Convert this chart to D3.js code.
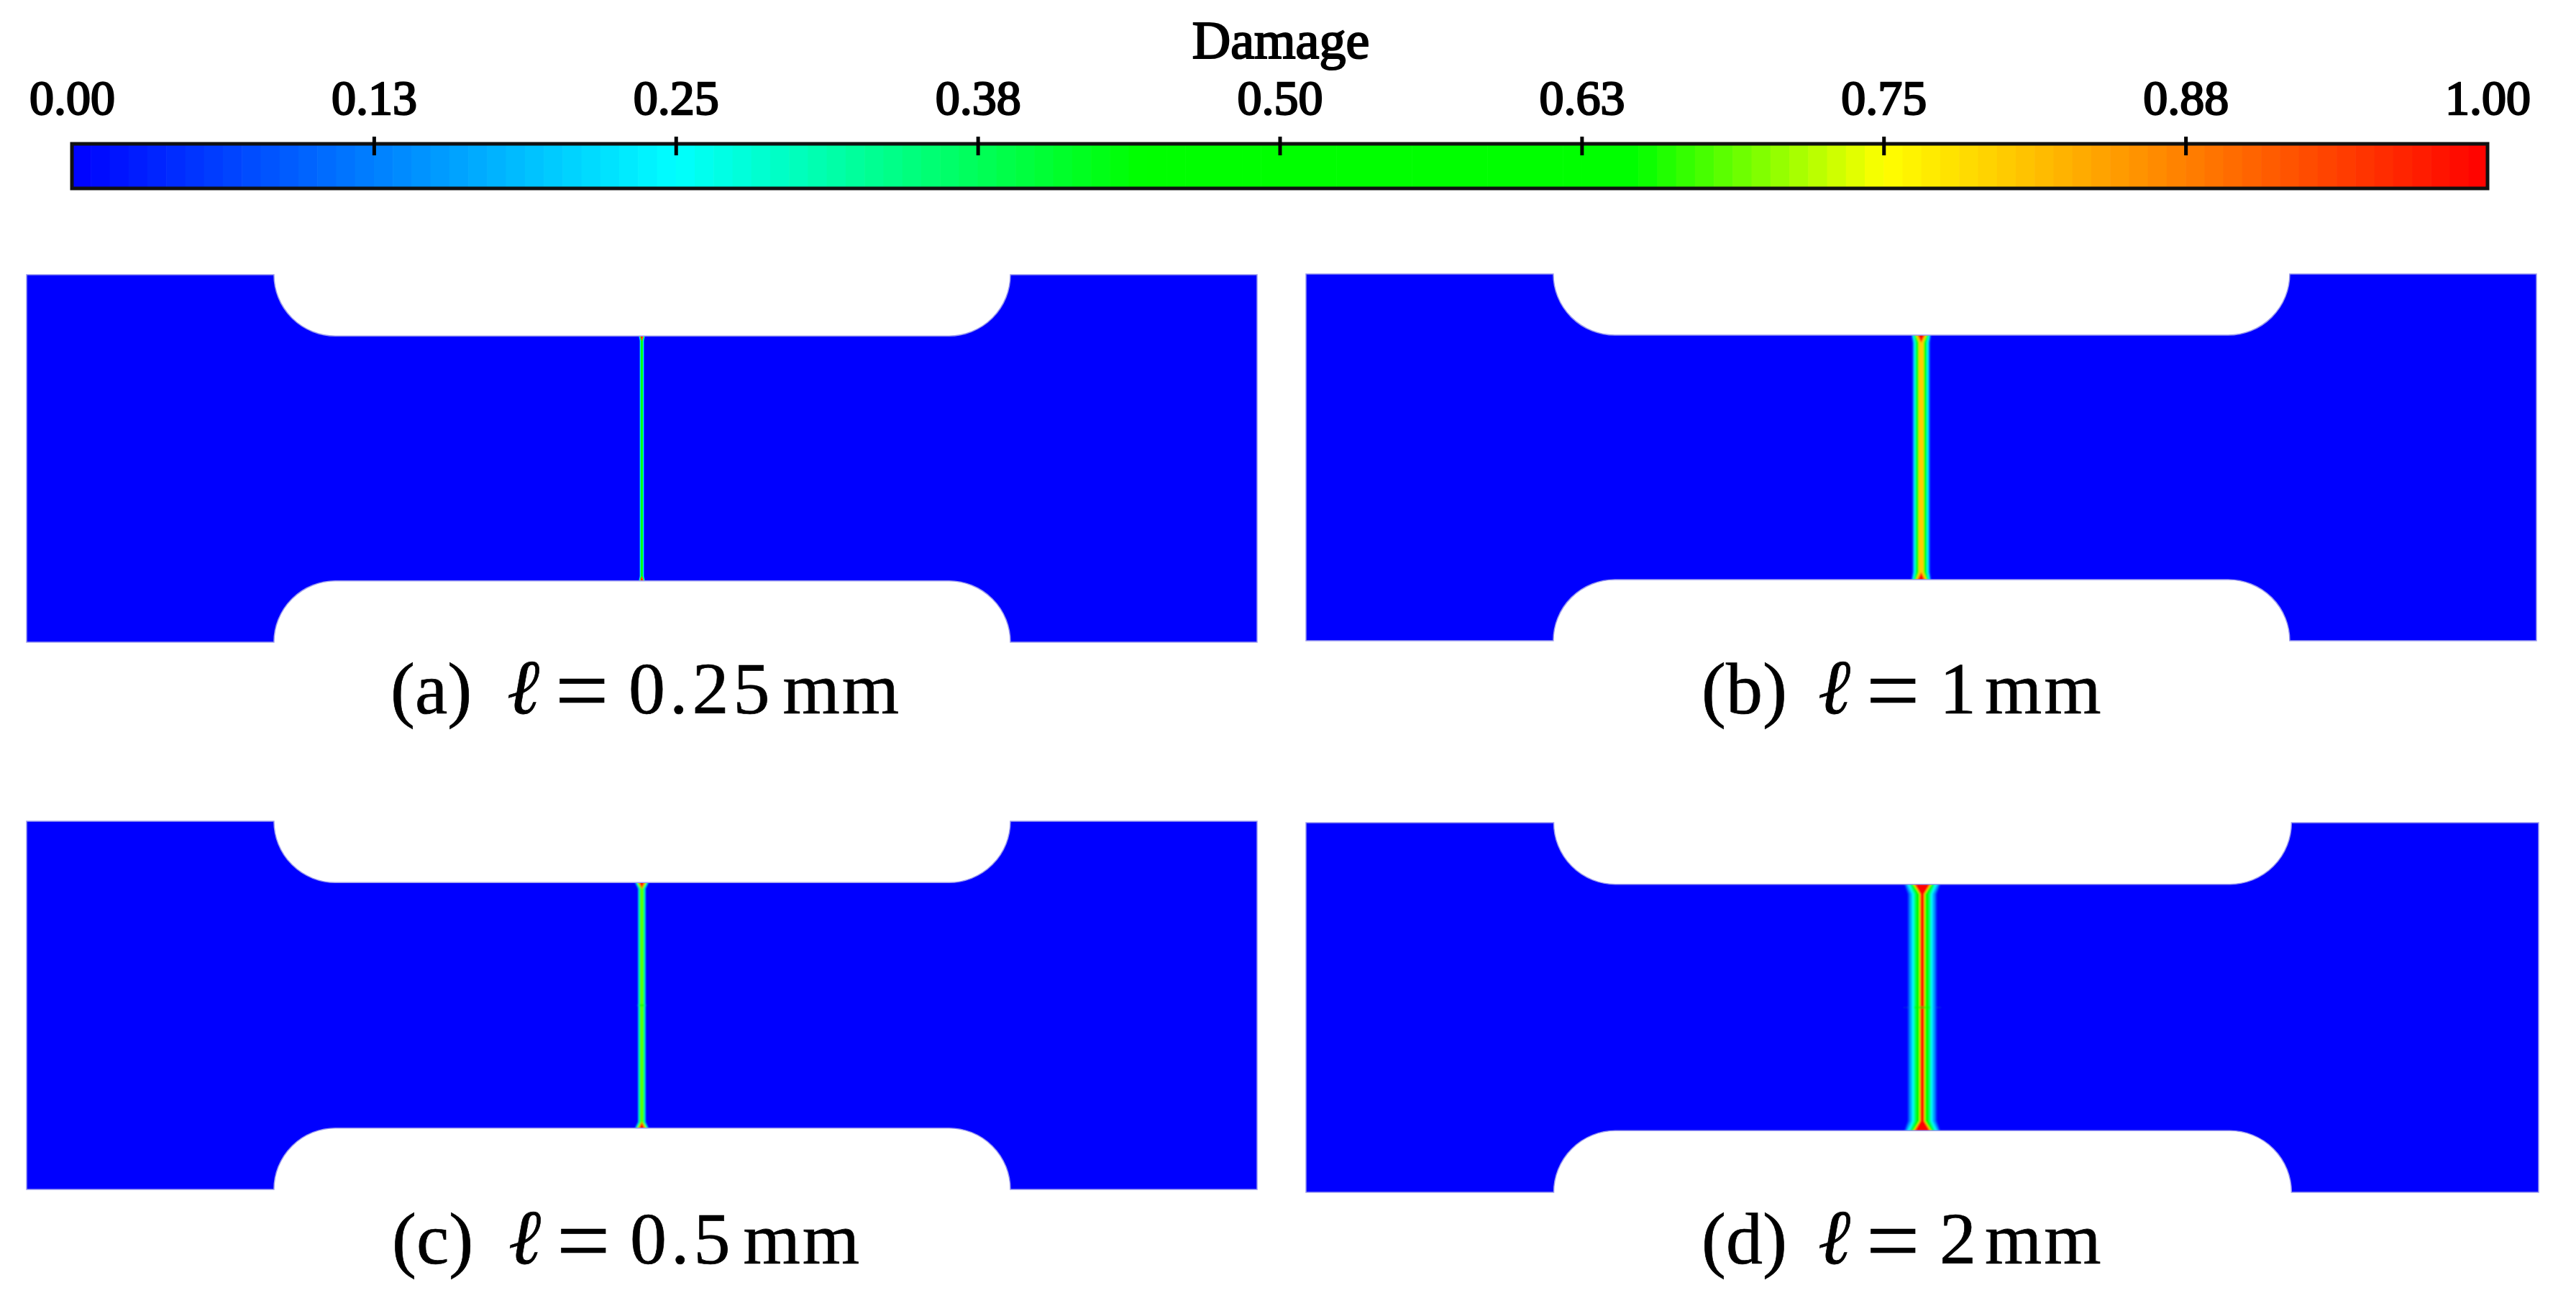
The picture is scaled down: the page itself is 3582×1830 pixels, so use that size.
<!DOCTYPE html>
<html>
<head>
<meta charset="utf-8">
<script src="https://cdn.jsdelivr.net/npm/d3@7"></script>
<style>
  html, body { margin: 0; background: #fff; }
  text { font-family: "Liberation Serif", serif; fill: #000; }
  .tick text { font-size: 68px; stroke: #000; stroke-width: 2.4px; }
</style>
</head>
<body>
<div class="canvas"></div>
<script>
// colour bar
const colorStops = [0, 0.25, 0.442, 0.647, 0.75, 1];
const colorValues = ["#0000ff", "#00ffff", "#00ff00", "#00ff00", "#ffff00", "#ff0000"];
const tickValues = [0, 0.125, 0.25, 0.375, 0.5, 0.625, 0.75, 0.875, 1];
const tickLabels = ["0.00", "0.13", "0.25", "0.38", "0.50", "0.63", "0.75", "0.88", "1.00"];

// specimen outline, mm
const specimenLength = 100;
const specimenHeight = 30;
const neckHeight = 20;
const shoulderX = [20.1, 79.95];
const filletRadius = 5;
const crackX = 50;

// damage contour half widths, mm
const damageLevels = [0.08, 0.17, 0.25, 0.33, 0.5, 0.7, 0.8, 0.9, 1];
const midWidthA = [0.19, 0.16, 0.13, 0.1, 0.07, 0, 0, 0, 0];
const endWidthA = [0.26, 0.24, 0.22, 0.2, 0.18, 0.16, 0.14, 0.11, 0.06];
const midWidthB = [0.72, 0.63, 0.56, 0.5, 0.41, 0.21, 0.19, 0, 0];
const endWidthB = [0.8, 0.74, 0.68, 0.62, 0.55, 0.45, 0.4, 0.32, 0.2];
const midWidthC = [0.32, 0.29, 0.26, 0.23, 0.17, 0.06, 0, 0, 0];
const endWidthC = [0.56, 0.53, 0.5, 0.46, 0.4, 0.34, 0.3, 0.25, 0.17];
const midWidthD = [1.17, 1.0, 0.82, 0.7, 0.55, 0.25, 0.2, 0.16, 0.12];
const endWidthD = [1.45, 1.32, 1.18, 1.05, 0.9, 0.75, 0.7, 0.65, 0.55];
const flareLength = [0.4, 0.6, 0.5, 0.8];
const blurSize = [0.6, 1, 0.8, 1.1];

const captionTags = ["(a)", "(b)", "(c)", "(d)"];
const captionValues = ["0.25", "1", "0.5", "2"];

// layout in px
const panels = [
  { x0: 37, x1: 1748, y0: 382, y1: 893, mid: midWidthA, end: endWidthA, lx: 543, ly: 992, notch: false },
  { x0: 1816, x1: 3527, y0: 381, y1: 891, mid: midWidthB, end: endWidthB, lx: 2366, ly: 992, notch: false },
  { x0: 37, x1: 1748, y0: 1142, y1: 1654, mid: midWidthC, end: endWidthC, lx: 545, ly: 1757, notch: true },
  { x0: 1816, x1: 3530, y0: 1144, y1: 1658, mid: midWidthD, end: endWidthD, lx: 2366, ly: 1757, notch: true },
];

const svg = d3.select(".canvas").append("svg")
  .attr("width", 3582)
  .attr("height", 1830)
  .style("display", "block");
const defs = svg.append("defs");

const color = d3.scaleLinear().domain(colorStops).range(colorValues).clamp(true);

/* Colour bar */
const barLeft = 100, barRight = 3459, barTop = 200, barBottom = 262;
const barScale = d3.scaleLinear().domain([0, 1]).range([barLeft, barRight]);
const barSteps = 128;

svg.append("g").selectAll("rect")
  .data(d3.range(barSteps))
  .enter()
  .append("rect")
  .attr("x", (i) => barScale(i / barSteps))
  .attr("y", barTop)
  .attr("width", (barRight - barLeft) / barSteps + 0.6)
  .attr("height", barBottom - barTop)
  .attr("fill", (i) => color((i + 0.5) / barSteps));

svg.append("rect")
  .attr("x", barLeft)
  .attr("y", barTop)
  .attr("width", barRight - barLeft)
  .attr("height", barBottom - barTop)
  .attr("fill", "none")
  .attr("stroke", "#111")
  .attr("stroke-width", 5);

const barAxis = d3.axisTop(barScale)
  .tickValues(tickValues)
  .tickFormat((d, i) => tickLabels[i])
  .tickSize(26)
  .tickPadding(31);

const axisG = svg.append("g")
  .attr("transform", "translate(0, 216)")
  .call(barAxis);
axisG.select(".domain").remove();
axisG.selectAll(".tick line")
  .attr("stroke", "#000")
  .attr("stroke-width", 5)
  .attr("display", (d) => (d === 0 || d === 1 ? "none" : null));

svg.append("text")
  .attr("x", 1781)
  .attr("y", 81)
  .attr("text-anchor", "middle")
  .attr("font-size", 74)
  .attr("stroke", "#000")
  .attr("stroke-width", 2.2)
  .text("Damage");

/* Specimens */
panels.forEach(function (p, idx) {
  const x = d3.scaleLinear().domain([0, specimenLength]).range([p.x0, p.x1]);
  const y = d3.scaleLinear().domain([0, specimenHeight]).range([p.y1, p.y0]);
  const rx = x(filletRadius) - x(0);
  const ry = y(0) - y(filletRadius);
  const neckTop = (specimenHeight + neckHeight) / 2;
  const neckBottom = (specimenHeight - neckHeight) / 2;
  const midY = specimenHeight / 2;
  const flare = flareLength[idx];

  const outline = [
    `M${x(0)},${y(specimenHeight)}`,
    `L${x(shoulderX[0])},${y(specimenHeight)}`,
    `A${rx},${ry} 0 0 0 ${x(shoulderX[0] + filletRadius)},${y(neckTop)}`,
    `L${x(shoulderX[1] - filletRadius)},${y(neckTop)}`,
    `A${rx},${ry} 0 0 0 ${x(shoulderX[1])},${y(specimenHeight)}`,
    `L${x(specimenLength)},${y(specimenHeight)}`,
    `L${x(specimenLength)},${y(0)}`,
    `L${x(shoulderX[1])},${y(0)}`,
    `A${rx},${ry} 0 0 0 ${x(shoulderX[1] - filletRadius)},${y(neckBottom)}`,
    `L${x(shoulderX[0] + filletRadius)},${y(neckBottom)}`,
    `A${rx},${ry} 0 0 0 ${x(shoulderX[0])},${y(0)}`,
    `L${x(0)},${y(0)}Z`,
  ].join("");

  defs.append("clipPath").attr("id", "clip" + idx).append("path").attr("d", outline);
  defs.append("filter")
    .attr("id", "soft" + idx)
    .attr("x", "-300%")
    .attr("width", "700%")
    .append("feGaussianBlur")
    .attr("stdDeviation", blurSize[idx]);

  const g = svg.append("g");
  g.append("path").attr("d", outline).attr("fill", "#0000ff");

  // nested contours of the damage band, low values first
  const band = d3.line().x((d) => x(d[0])).y((d) => y(d[1]));
  const field = g.append("g")
    .attr("clip-path", `url(#clip${idx})`)
    .append("g")
    .attr("filter", `url(#soft${idx})`);

  if (p.notch) {
    field.append("rect")
      .attr("x", x(crackX - p.mid[0] * 1.3))
      .attr("y", y(midY + 0.06))
      .attr("width", x(p.mid[0] * 2.6) - x(0))
      .attr("height", y(0) - y(0.12))
      .attr("fill", "#0020e8");
  }

  field.selectAll(".band")
    .data(damageLevels.map((level, i) => ({ level: level, mid: p.mid[i], end: p.end[i] })))
    .enter()
    .append("path")
    .attr("class", "band")
    .attr("fill", (d) => color(d.level))
    .attr("d", function (d) {
      const pts = [
        [crackX - d.end, neckTop + 0.4],
        [crackX + d.end, neckTop + 0.4],
        [crackX + d.end, neckTop],
        [crackX + d.mid, neckTop - flare],
        [crackX + d.mid, neckBottom + flare],
        [crackX + d.end, neckBottom],
        [crackX + d.end, neckBottom - 0.4],
        [crackX - d.end, neckBottom - 0.4],
        [crackX - d.end, neckBottom],
        [crackX - d.mid, neckBottom + flare],
        [crackX - d.mid, neckTop - flare],
        [crackX - d.end, neckTop],
      ];
      return band(pts) + "Z";
    });

  if (p.notch) {
    field.append("rect")
      .attr("x", x(crackX - p.mid[3]))
      .attr("y", y(midY + 0.08))
      .attr("width", x(p.mid[3] * 2) - x(0))
      .attr("height", y(0) - y(0.16))
      .attr("fill", color(0.6))
      .attr("opacity", 0.6);
  }

  g.append("path")
    .attr("d", outline)
    .attr("fill", "none")
    .attr("stroke", "#9a9aee")
    .attr("stroke-width", 1.5);

  // caption pieces are spaced like the typeset original
  const cap = svg.append("text")
    .attr("y", p.ly)
    .attr("font-size", 102)
    .attr("stroke", "#000")
    .attr("stroke-width", 0.7);
  cap.append("tspan").attr("x", p.lx).attr("y", p.ly).text(captionTags[idx]);
  cap.append("tspan")
    .attr("x", p.lx + 162)
    .attr("y", p.ly)
    .attr("font-style", "italic")
    .attr("font-family", "DejaVu Serif")
    .attr("font-size", 108)
    .text("\u2113");
  cap.append("tspan")
    .attr("x", p.lx + 229)
    .attr("y", p.ly + 12)
    .attr("font-size", 132)
    .text("=");
  cap.append("tspan")
    .attr("x", p.lx + 331)
    .attr("y", p.ly)
    .attr("letter-spacing", captionValues[idx].length > 1 ? 6 : 0)
    .text(captionValues[idx]);
  cap.append("tspan").attr("dx", 12).attr("y", p.ly).attr("letter-spacing", 3).text("mm");
});
</script>
</body>
</html>
